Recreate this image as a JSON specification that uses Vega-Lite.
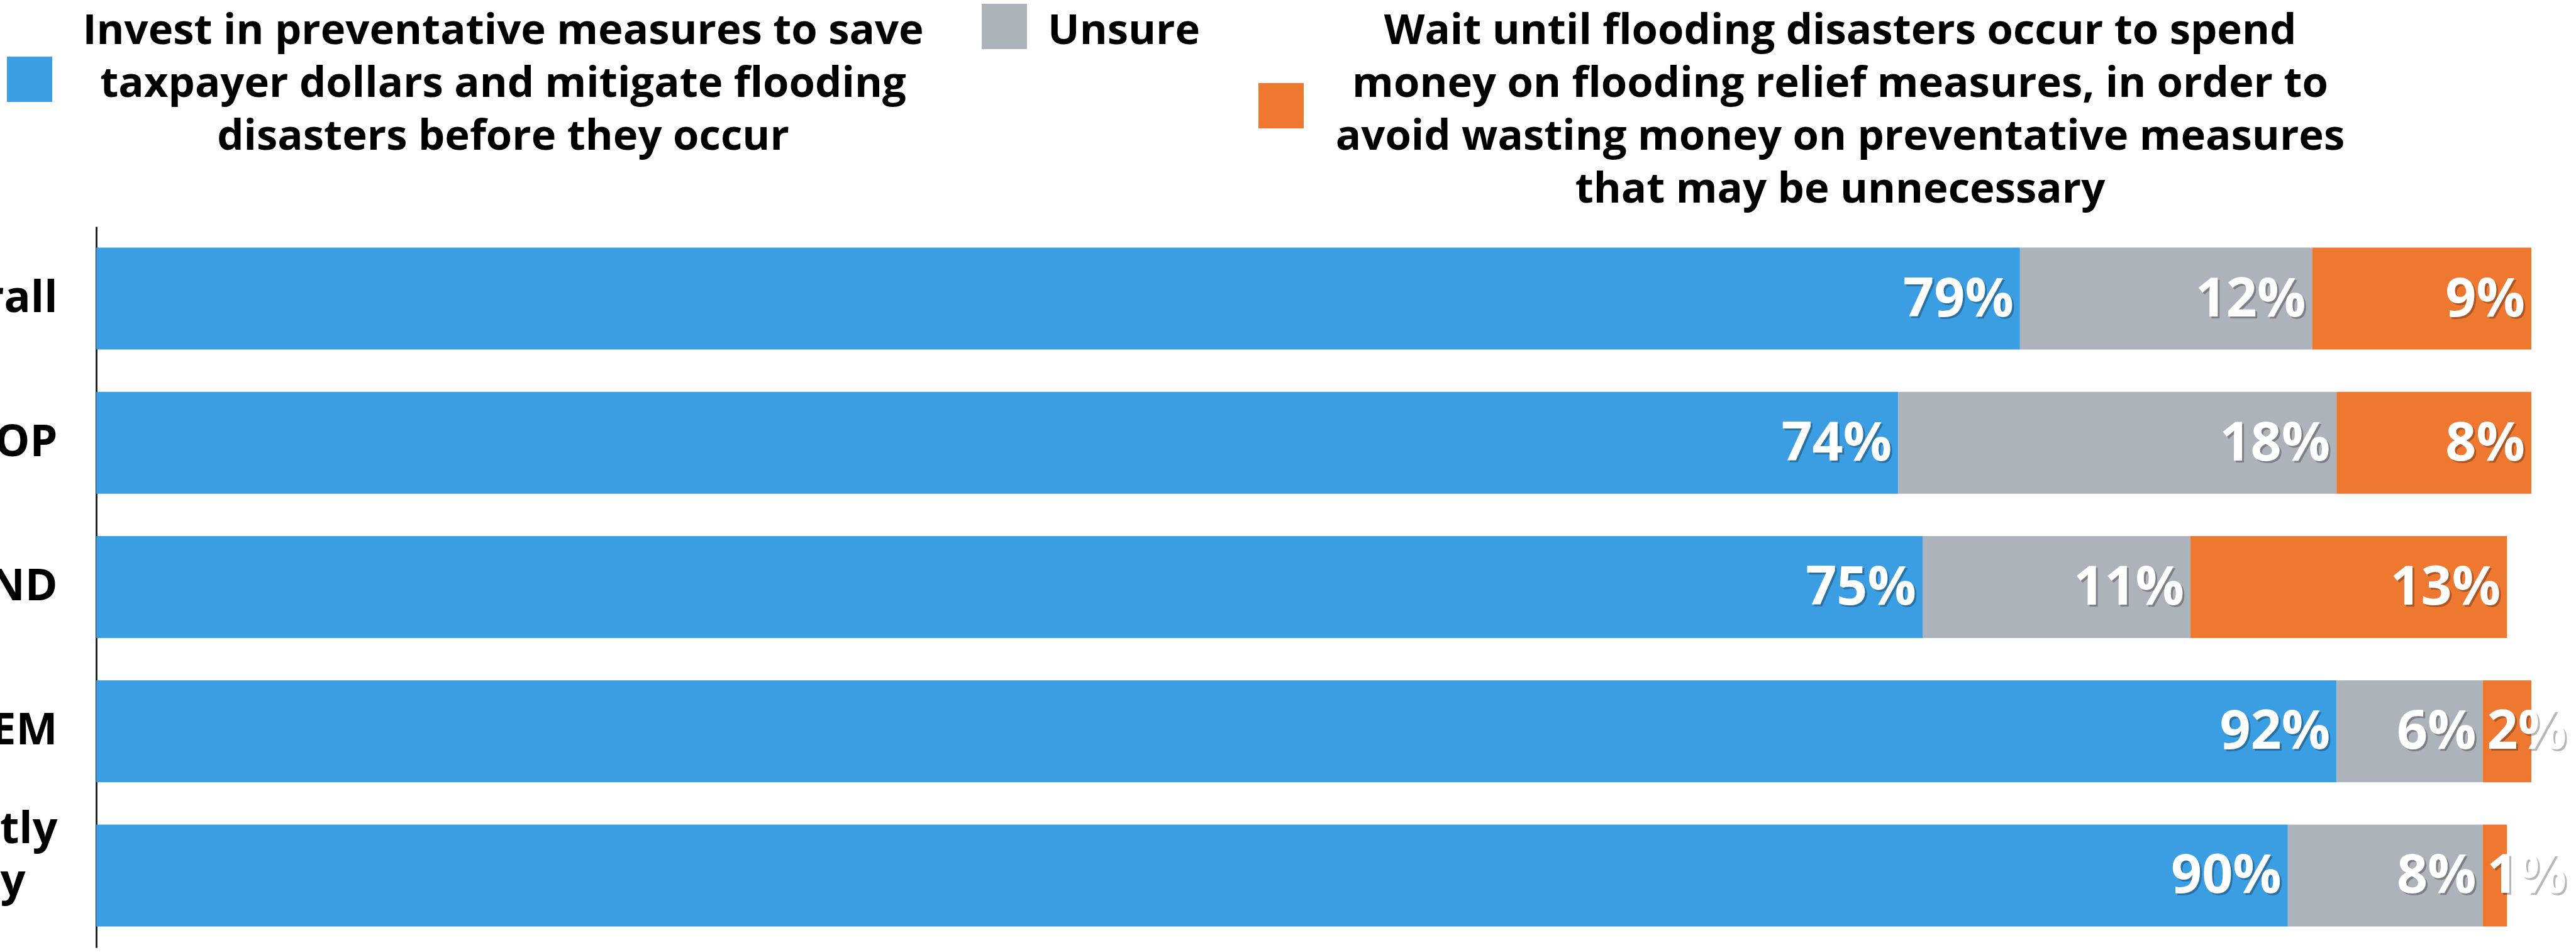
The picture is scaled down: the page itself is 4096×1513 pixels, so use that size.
{
  "$schema": "https://vega.github.io/schema/vega-lite/v6.json",
  "autosize": {"type": "none"},
  "padding": {"left": 153, "top": 360, "right": 71, "bottom": 7},
  "width": 3872,
  "height": 1146,
  "background": "white",
  "config": {"view": {"stroke": null}, "font": "Open Sans"},
  "data": {
    "values": [
      {"group": "Overall", "response": "Invest in preventative measures to save taxpayer dollars and mitigate flooding disasters before they occur", "pct": 0.79},
      {"group": "Overall", "response": "Unsure", "pct": 0.12},
      {"group": "Overall", "response": "Wait until flooding disasters occur to spend money on flooding relief measures, in order to avoid wasting money on preventative measures that may be unnecessary", "pct": 0.09},
      {"group": "GOP", "response": "Invest in preventative measures to save taxpayer dollars and mitigate flooding disasters before they occur", "pct": 0.74},
      {"group": "GOP", "response": "Unsure", "pct": 0.18},
      {"group": "GOP", "response": "Wait until flooding disasters occur to spend money on flooding relief measures, in order to avoid wasting money on preventative measures that may be unnecessary", "pct": 0.08},
      {"group": "IND", "response": "Invest in preventative measures to save taxpayer dollars and mitigate flooding disasters before they occur", "pct": 0.75},
      {"group": "IND", "response": "Unsure", "pct": 0.11},
      {"group": "IND", "response": "Wait until flooding disasters occur to spend money on flooding relief measures, in order to avoid wasting money on preventative measures that may be unnecessary", "pct": 0.13},
      {"group": "DEM", "response": "Invest in preventative measures to save taxpayer dollars and mitigate flooding disasters before they occur", "pct": 0.92},
      {"group": "DEM", "response": "Unsure", "pct": 0.06},
      {"group": "DEM", "response": "Wait until flooding disasters occur to spend money on flooding relief measures, in order to avoid wasting money on preventative measures that may be unnecessary", "pct": 0.02},
      {"group": "Directly affected by flooding", "response": "Invest in preventative measures to save taxpayer dollars and mitigate flooding disasters before they occur", "pct": 0.90},
      {"group": "Directly affected by flooding", "response": "Unsure", "pct": 0.08},
      {"group": "Directly affected by flooding", "response": "Wait until flooding disasters occur to spend money on flooding relief measures, in order to avoid wasting money on preventative measures that may be unnecessary", "pct": 0.01}
    ]
  },
  "transform": [
    {"stack": "pct", "groupby": ["group"], "sort": [{"field": "response", "order": "ascending"}], "as": ["x0", "x1"]}
  ],
  "encoding": {
    "y": {
      "field": "group",
      "type": "nominal",
      "sort": null,
      "scale": {"paddingInner": 0.293, "paddingOuter": 0.1465},
      "axis": {
        "title": null,
        "ticks": false,
        "grid": false,
        "domain": true,
        "domainColor": "#222222",
        "domainWidth": 3,
        "labelFont": "Open Sans",
        "labelFontWeight": "bold",
        "labelFontSize": 70,
        "labelLineHeight": 83,
        "labelColor": "black",
        "labelPadding": 62,
        "labelLimit": 0,
        "labelOffset": {"condition": {"test": "datum.value == 'Directly affected by flooding'", "value": -72}, "value": 0},
        "labelExpr": "datum.value == 'Directly affected by flooding' ? ['Directly', 'affected by\u2800', 'flooding\u2800\u2800\u2800\u2800'] : datum.label"
      }
    }
  },
  "layer": [
    {
      "mark": {"type": "bar"},
      "encoding": {
        "x": {"field": "x0", "type": "quantitative", "scale": {"domain": [0, 1]}, "axis": null},
        "x2": {"field": "x1"},
        "color": {
          "field": "response",
          "type": "nominal",
          "scale": {"range": ["#3B9EE3", "#ADB3BB", "#EF7831"]},
          "legend": {
            "title": null,
            "orient": "none",
            "legendX": -142,
            "legendY": -354,
            "direction": "horizontal",
            "columns": 3,
            "symbolType": "square",
            "symbolSize": 5184,
            "symbolStrokeWidth": 0,
            "symbolOpacity": 1,
            "labelFont": "Open Sans",
            "labelFontWeight": "bold",
            "labelFontSize": 67,
            "labelColor": "black",
            "labelAlign": "center",
            "labelOffset": 48,
            "columnPadding": 92,
            "labelLimit": 0,
            "padding": 0,
            "labelExpr": "datum.label == 'Unsure' ? ['Unsure', '', '', ''] : indexof(datum.label, 'Invest') == 0 ? ['Invest in preventative measures to save', 'taxpayer dollars and mitigate flooding', 'disasters before they occur', ''] : ['Wait until flooding disasters occur to spend', 'money on flooding relief measures, in order to', 'avoid wasting money on preventative measures', 'that may be unnecessary']",
            "encode": {
              "labels": {
                "update": {
                  "dx": {"signal": "datum.value == 'Unsure' ? 106 : indexof(datum.value, 'Invest') == 0 ? 669 : 805"},
                  "dy": {"value": 8},
                  "lineHeight": {"value": 84}
                }
              },
              "symbols": {
                "update": {
                  "y": {"signal": "datum.size / 2 + (datum.value == 'Unsure' ? 0 : indexof(datum.value, 'Invest') == 0 ? 84 : 126)"}
                }
              }
            }
          }
        }
      }
    },
    {
      "transform": [{"filter": "datum.pct >= 0.05"}],
      "mark": {"type": "text", "align": "right", "baseline": "middle", "dx": -7, "dy": 5, "font": "Open Sans", "fontWeight": "bold", "fontSize": 86, "color": "#000000", "opacity": 0.28},
      "encoding": {"x": {"field": "x1", "type": "quantitative"}, "text": {"field": "pct", "type": "quantitative", "format": ".0%"}}
    },
    {
      "transform": [{"filter": "datum.pct >= 0.05"}],
      "mark": {"type": "text", "align": "right", "baseline": "middle", "dx": -10, "dy": 2, "font": "Open Sans", "fontWeight": "bold", "fontSize": 86, "color": "white"},
      "encoding": {"x": {"field": "x1", "type": "quantitative"}, "text": {"field": "pct", "type": "quantitative", "format": ".0%"}}
    },
    {
      "transform": [{"filter": "datum.pct < 0.05"}],
      "mark": {"type": "text", "align": "left", "baseline": "middle", "dx": 10, "dy": 5, "font": "Open Sans", "fontWeight": "bold", "fontSize": 86, "color": "#000000", "opacity": 0.28},
      "encoding": {"x": {"field": "x0", "type": "quantitative"}, "text": {"field": "pct", "type": "quantitative", "format": ".0%"}}
    },
    {
      "transform": [{"filter": "datum.pct < 0.05"}],
      "mark": {"type": "text", "align": "left", "baseline": "middle", "dx": 7, "dy": 2, "font": "Open Sans", "fontWeight": "bold", "fontSize": 86, "color": "white"},
      "encoding": {"x": {"field": "x0", "type": "quantitative"}, "text": {"field": "pct", "type": "quantitative", "format": ".0%"}}
    }
  ]
}
